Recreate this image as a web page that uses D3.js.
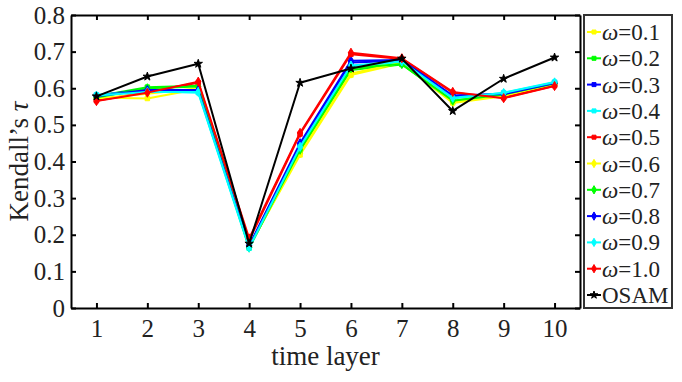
<!DOCTYPE html>
<html>
<head>
<meta charset="utf-8">
<script src="https://cdn.jsdelivr.net/npm/d3@7"></script>
<style>
  body { margin: 0; background: #fff; }
  svg text { font-family: "Liberation Serif", "Times New Roman", serif !important; fill: #222; }
</style>
</head>
<body>
<div id="vis"></div>
<script>
// data
const layers = [1, 2, 3, 4, 5, 6, 7, 8, 9, 10]
const yTicks = [0, 0.1, 0.2, 0.3, 0.4, 0.5, 0.6, 0.7, 0.8]

const w01 = [0.575, 0.572, 0.598, 0.168, 0.418, 0.636, 0.668, 0.560, 0.578, 0.612]
const w02 = [0.578, 0.603, 0.607, 0.165, 0.428, 0.650, 0.665, 0.565, 0.585, 0.612]
const w03 = [0.580, 0.597, 0.593, 0.168, 0.445, 0.670, 0.675, 0.578, 0.585, 0.615]
const w04 = [0.582, 0.592, 0.588, 0.163, 0.438, 0.660, 0.672, 0.572, 0.588, 0.617]
const w05 = [0.566, 0.590, 0.615, 0.185, 0.475, 0.693, 0.680, 0.588, 0.574, 0.607]
const w06 = [0.572, 0.585, 0.600, 0.167, 0.422, 0.640, 0.670, 0.562, 0.580, 0.612]
const w07 = [0.575, 0.600, 0.605, 0.165, 0.432, 0.655, 0.666, 0.566, 0.583, 0.613]
const w08 = [0.578, 0.595, 0.595, 0.170, 0.450, 0.675, 0.677, 0.580, 0.584, 0.614]
const w09 = [0.580, 0.590, 0.590, 0.165, 0.440, 0.662, 0.673, 0.574, 0.587, 0.616]
const w10 = [0.565, 0.588, 0.618, 0.190, 0.478, 0.697, 0.682, 0.590, 0.573, 0.606]
const osam = [0.578, 0.632, 0.667, 0.176, 0.615, 0.654, 0.681, 0.538, 0.626, 0.684]

const series = [
  { name: "0.1", values: w01, color: "#ffff00", marker: "square" },
  { name: "0.2", values: w02, color: "#00ff00", marker: "square" },
  { name: "0.3", values: w03, color: "#0000ff", marker: "square" },
  { name: "0.4", values: w04, color: "#00ffff", marker: "square" },
  { name: "0.5", values: w05, color: "#ff0000", marker: "square" },
  { name: "0.6", values: w06, color: "#ffff00", marker: "diamond" },
  { name: "0.7", values: w07, color: "#00ff00", marker: "diamond" },
  { name: "0.8", values: w08, color: "#0000ff", marker: "diamond" },
  { name: "0.9", values: w09, color: "#00ffff", marker: "diamond" },
  { name: "1.0", values: w10, color: "#ff0000", marker: "diamond" },
  { name: "OSAM", values: osam, color: "#000000", marker: "star" }
]

const width = 682
const height = 382
const plot = { left: 71, top: 15, right: 580, bottom: 308 }

const svg = d3.select("#vis")
  .append("svg")
  .attr("width", width)
  .attr("height", height)

const x = d3.scaleLinear().domain([0.5, 10.5]).range([plot.left, plot.right])
const y = d3.scaleLinear().domain([0, 0.8]).range([plot.bottom, plot.top])

//axes with inward ticks on all four sides
const tickLen = 5
const axisStyle = g => {
  g.attr("font-size", 25).attr("font-family", null)
  g.select(".domain").attr("stroke", "#000").attr("stroke-width", 2)
  g.selectAll(".tick line").attr("stroke", "#000").attr("stroke-width", 2)
  g.selectAll("text").attr("fill", "#222")
}

svg.append("g")
  .attr("transform", `translate(0,${plot.bottom})`)
  .call(d3.axisBottom(x).tickValues(layers).tickFormat(d3.format("d"))
    .tickSizeInner(-tickLen).tickSizeOuter(0).tickPadding(11))
  .call(axisStyle)

svg.append("g")
  .attr("transform", `translate(0,${plot.top})`)
  .call(d3.axisTop(x).tickValues(layers).tickFormat("")
    .tickSizeInner(-tickLen).tickSizeOuter(0))
  .call(axisStyle)

svg.append("g")
  .attr("transform", `translate(${plot.left},0)`)
  .call(d3.axisLeft(y).tickValues(yTicks).tickFormat(d => d === 0 ? "0" : d3.format(".1f")(d))
    .tickSizeInner(-tickLen).tickSizeOuter(0).tickPadding(6))
  .call(axisStyle)

svg.append("g")
  .attr("transform", `translate(${plot.right},0)`)
  .call(d3.axisRight(y).tickValues(yTicks).tickFormat("")
    .tickSizeInner(-tickLen).tickSizeOuter(0))
  .call(axisStyle)

//axis titles
svg.append("text")
  .attr("x", (plot.left + plot.right) / 2)
  .attr("y", 365)
  .attr("text-anchor", "middle")
  .attr("font-size", 27)
  .text("time layer")

const yl = svg.append("text")
  .attr("transform", `translate(28,${(plot.top + plot.bottom) / 2}) rotate(-90)`)
  .attr("text-anchor", "middle")
  .attr("font-size", 27)
yl.append("tspan").text("Kendall\u2019s ")
yl.append("tspan").attr("font-style", "italic").text("\u03c4")

//markers
const symbolFor = m => m === "square" ? d3.symbolSquare : m === "diamond" ? d3.symbolDiamond : d3.symbolStar
const sizeFor = m => m === "square" ? 20 : m === "diamond" ? 24 : 22

const line = d3.line()
  .x((d, i) => x(layers[i]))
  .y(d => y(d))

const groups = svg.selectAll(".series")
  .data(series)
  .enter()
  .append("g")
  .attr("class", "series")

groups.append("path")
  .attr("d", d => line(d.values))
  .attr("fill", "none")
  .attr("stroke", d => d.color)
  .attr("stroke-width", 2)
  .attr("stroke-linejoin", "round")

groups.each(function (s) {
  d3.select(this).selectAll("path.mark")
    .data(s.values)
    .enter()
    .append("path")
    .attr("class", "mark")
    .attr("d", d3.symbol().type(symbolFor(s.marker)).size(sizeFor(s.marker)))
    .attr("transform", (d, i) => `translate(${x(layers[i])},${y(d)})`)
    .attr("fill", s.color)
    .attr("stroke", s.color)
    .attr("stroke-width", 1)
})

//legend
const lg = svg.append("g")
lg.append("rect")
  .attr("x", 584).attr("y", 15)
  .attr("width", 88).attr("height", 293)
  .attr("fill", "#fff")
  .attr("stroke", "#333")
  .attr("stroke-width", 2)

const rowY = i => 32 + i * 26.3
const items = lg.selectAll(".item")
  .data(series)
  .enter()
  .append("g")
  .attr("transform", (d, i) => `translate(0,${rowY(i)})`)

items.append("line")
  .attr("x1", 587).attr("x2", 601)
  .attr("stroke", d => d.color)
  .attr("stroke-width", 2)

items.append("path")
  .attr("d", d => d3.symbol().type(symbolFor(d.marker)).size(sizeFor(d.marker) - 4)())
  .attr("transform", "translate(594,0)")
  .attr("fill", d => d.color)
  .attr("stroke", d => d.color)

const lt = items.append("text")
  .attr("x", 602)
  .attr("dy", "0.35em")
  .attr("font-size", 23)
lt.filter(d => d.name !== "OSAM").append("tspan").attr("font-style", "italic").text("\u03c9")
lt.filter(d => d.name !== "OSAM").append("tspan").text(d => "=" + d.name)
lt.filter(d => d.name === "OSAM").text("OSAM")
</script>
</body>
</html>
